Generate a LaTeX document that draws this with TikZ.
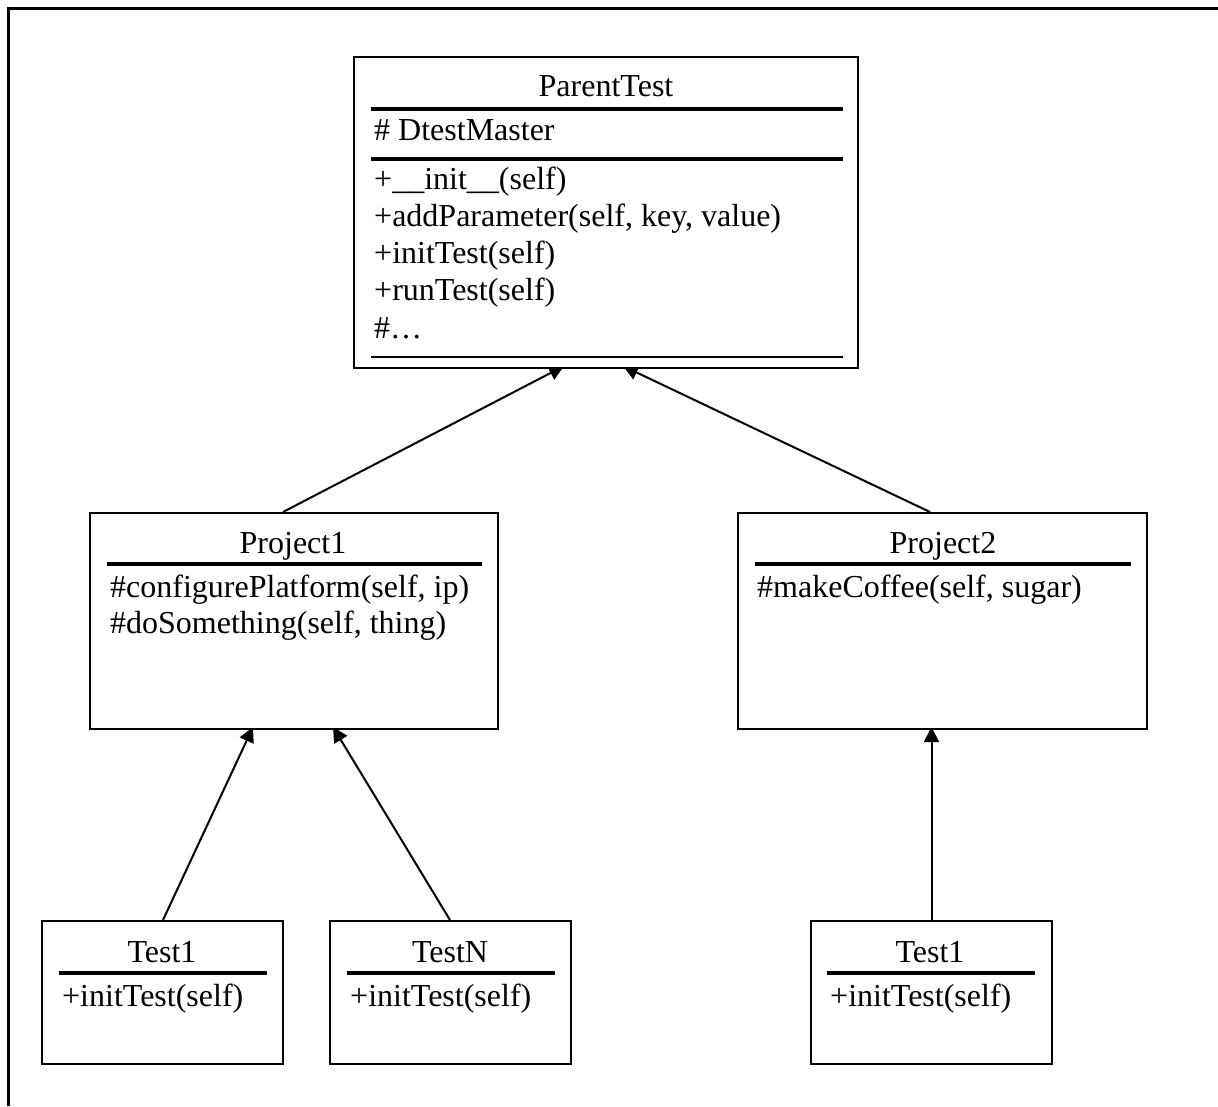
\documentclass[tikz,border=0pt]{standalone}
\usepackage{fontspec}
\setmainfont{Liberation Serif}
\usetikzlibrary{arrows.meta,backgrounds}
\tikzset{
  umlbox/.style={draw=black, line width=2pt, fill=white, rectangle, inner sep=0pt},
  title/.style={anchor=base, inner sep=0pt, font=\fontsize{32}{38}\selectfont},
  member/.style={anchor=base west, inner sep=0pt, font=\fontsize{32}{38}\selectfont},
  septhick/.style={line width=4pt},
  septhin/.style={line width=1.5pt},
  inherit/.style={line width=2pt, -{Triangle[length=15pt,width=15pt]}},
  frame/.style={line width=3pt}
}
\begin{document}
\begin{tikzpicture}[x=1pt,y=-1pt]
\useasboundingbox (0,0) rectangle (1218,1106);
\draw[frame] (8.5,1106) -- (8.5,8.5) -- (1218,8.5);

% boxes
\node[umlbox, minimum width=504pt, minimum height=311pt] (pt) at (606,212.5) {};
\node[umlbox, minimum width=408pt, minimum height=216pt] (p1) at (294,621) {};
\node[umlbox, minimum width=409pt, minimum height=216pt] (p2) at (942.5,621) {};
\node[umlbox, minimum width=241pt, minimum height=143pt] (t1) at (162.5,992.5) {};
\node[umlbox, minimum width=241pt, minimum height=143pt] (tn) at (450.5,992.5) {};
\node[umlbox, minimum width=241pt, minimum height=143pt] (t2) at (931.5,992.5) {};

% ParentTest
\node[title] (ptname) at (606,96) {ParentTest};
\draw[septhick] (371,109) -- (843,109);
\node[member] (ptattr) at (374,140) {\# DtestMaster};
\draw[septhick] (371,159) -- (843,159);
\node[member] (ptm1) at (374,189) {+\_\_init\_\_(self)};
\node[member] (ptm2) at (374,226) {+addParameter(self, key, value)};
\node[member] (ptm3) at (374,263) {+initTest(self)};
\node[member] (ptm4) at (374,300) {+runTest(self)};
\node[member] (ptm5) at (374,338) {\#…};
\draw[septhin] (371,357) -- (843,357);

% Project1
\node[title] (p1name) at (293,553) {Project1};
\draw[septhick] (107,564) -- (482,564);
\node[member] (p1m1) at (110,597) {\#configurePlatform(self, ip)};
\node[member] (p1m2) at (110,633) {\#doSomething(self, thing)};

% Project2
\node[title] (p2name) at (943,553) {Project2};
\draw[septhick] (755,564) -- (1131,564);
\node[member] (p2m1) at (757,597) {\#makeCoffee(self, sugar)};

% Test1 (left)
\node[title] (t1name) at (162,962) {Test1};
\draw[septhick] (59,973) -- (267,973);
\node[member] (t1m1) at (62,1006) {+initTest(self)};

% TestN
\node[title] (tnname) at (450,962) {TestN};
\draw[septhick] (347,973) -- (555,973);
\node[member] (tnm1) at (350,1006) {+initTest(self)};

% Test1 (right)
\node[title] (t2name) at (930,962) {Test1};
\draw[septhick] (827,973) -- (1035,973);
\node[member] (t2m1) at (830,1006) {+initTest(self)};

% connectors
\begin{pgfonlayer}{background}
\draw[inherit] ([xshift=-11pt]p1.north) -- ([xshift=-42pt,yshift=3pt]pt.south);
\draw[inherit] ([xshift=-12.5pt]p2.north) -- ([xshift=17pt,yshift=3pt]pt.south);
\draw[inherit] ([xshift=0.5pt]t1.north) -- ([xshift=-41pt,yshift=3pt]p1.south);
\draw[inherit] ([xshift=-0.5pt]tn.north) -- ([xshift=39pt,yshift=3pt]p1.south);
\draw[inherit] (t2.north) -- ([yshift=3pt]t2.north |- p2.south);
\end{pgfonlayer}
\end{tikzpicture}
\end{document}
